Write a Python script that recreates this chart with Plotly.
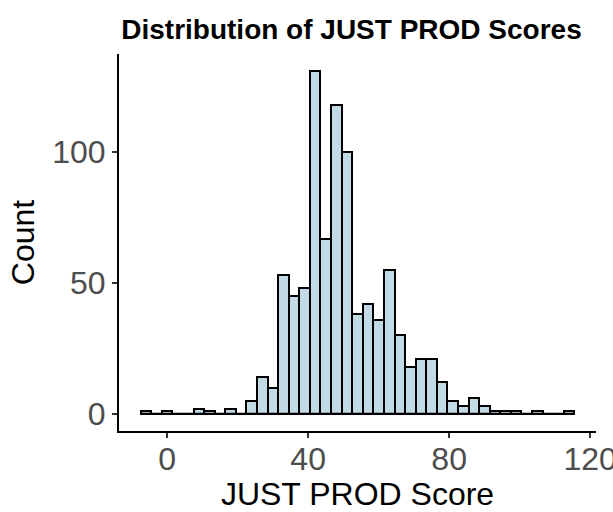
import plotly.graph_objects as go

# Histogram of JUST PROD scores, binned at width 3 (bins centred on multiples of 3)
bin_width = 3
bin_centers = [-6, -3, 0, 3, 6, 9, 12, 15, 18, 21, 24, 27, 30, 33, 36, 39, 42, 45,
               48, 51, 54, 57, 60, 63, 66, 69, 72, 75, 78, 81, 84, 87, 90, 93, 96,
               99, 102, 105, 108, 111, 114]
counts = [1, 0, 1, 0, 0, 2, 1, 0, 2, 0, 5, 14, 10, 53, 45, 48, 131, 67,
          118, 100, 38, 42, 36, 55, 30, 18, 21, 21, 12, 5, 3, 6, 3, 1, 1,
          1, 0, 1, 0, 0, 1]
x_ticks = [0, 40, 80, 120]
y_ticks = [0, 50, 100]

FILL = "#C2D9E6"
FONT = "Liberation Sans, Arial, sans-serif"

first_edge = bin_centers[0] - bin_width / 2
last_edge = bin_centers[-1] + bin_width / 2
x_pad = (last_edge - first_edge) * 0.05
y_max = max(counts)
y_pad = y_max * 0.05

fig = go.Figure()

# empty bins still show their outline along the baseline
fig.add_trace(go.Scatter(
    x=[first_edge, last_edge], y=[0, 0], mode="lines",
    line=dict(color="black", width=2), hoverinfo="skip", showlegend=False,
))

fig.add_trace(go.Bar(
    x=bin_centers, y=counts, width=[bin_width] * len(bin_centers),
    marker=dict(color=FILL, line=dict(color="black", width=2)),
    showlegend=False,
))

axis_common = dict(
    showgrid=False, zeroline=False, automargin=False,
    showline=True, linecolor="black", linewidth=2,
    ticks="outside", ticklen=5, tickwidth=1.5, tickcolor="#333333",
    tickfont=dict(family=FONT, size=32, color="#4D4D4D"),
)

fig.update_layout(
    width=613, height=512,
    margin=dict(l=119, r=17, t=54, b=81, autoexpand=False),
    paper_bgcolor="white", plot_bgcolor="white",
    bargap=0,
    title=dict(
        text="Distribution of JUST PROD Scores",
        x=351.5 / 613, xref="container", xanchor="center",
        y=1, yref="container", yanchor="top", pad=dict(t=19),
        font=dict(family=FONT, size=28, color="black", weight="bold"),
    ),
    xaxis=dict(
        **axis_common,
        range=[first_edge - x_pad, last_edge + x_pad],
        tickvals=x_ticks, ticktext=[str(v) for v in x_ticks],
        ticklabeloverflow="allow",
        ticklabelstandoff=-6,
        title=dict(text="JUST PROD Score", standoff=8,
                   font=dict(family=FONT, size=32, color="black")),
    ),
    yaxis=dict(
        **axis_common,
        range=[-y_pad, y_max + y_pad],
        tickvals=y_ticks, ticktext=[str(v) for v in y_ticks],
        title=dict(text="Count", standoff=8,
                   font=dict(family=FONT, size=32, color="black")),
    ),
)

fig.write_html("out.html")
